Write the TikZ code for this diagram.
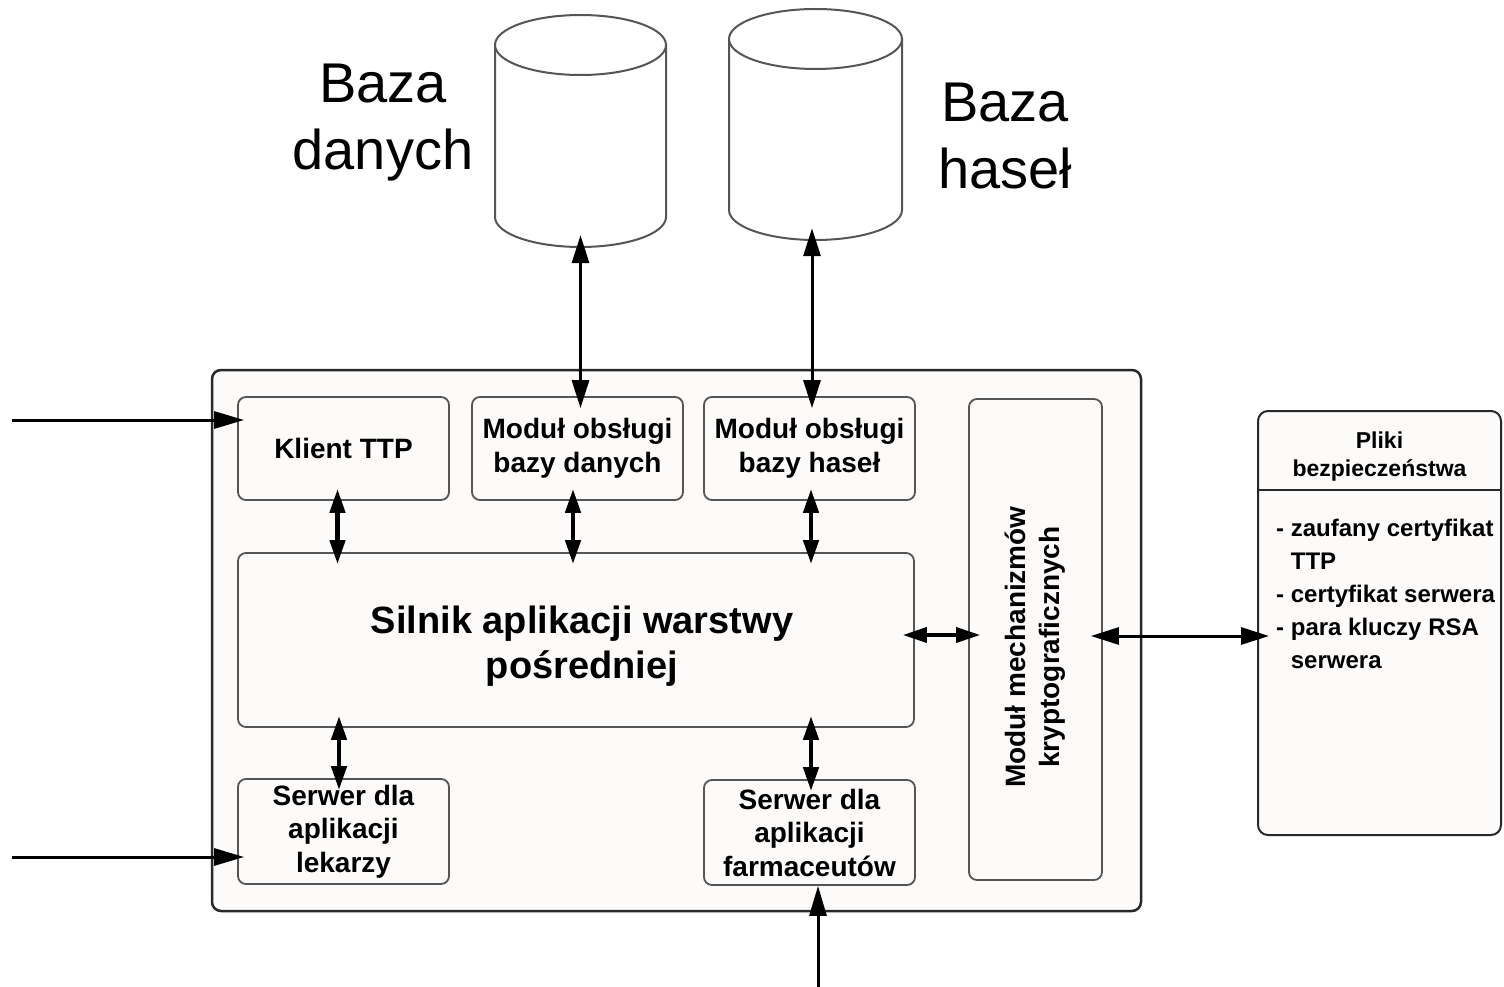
\documentclass[tikz,border=0pt]{standalone}
\usepackage{fontspec}
\setmainfont{Liberation Sans}
\usetikzlibrary{arrows.meta,calc}
\definecolor{boxfill}{RGB}{252,251,250}
\definecolor{edge}{RGB}{85,85,85}
\definecolor{frame}{RGB}{40,40,40}

\begin{document}
\begin{tikzpicture}[x=1pt,y=-1pt,
  module/.style={draw=edge, line width=1.8pt, rounded corners=8pt, fill=boxfill,
    inner sep=0pt, align=center, font=\bfseries\fontsize{28}{33.5}\selectfont},
  outerbox/.style={draw=frame, line width=2.5pt, rounded corners=9pt, fill=boxfill, inner sep=0pt},
  cyl/.style={draw=edge, line width=2pt, fill=white},
  biglabel/.style={align=center, font=\fontsize{56}{67}\selectfont},
  arr/.style={line width=3pt, -{Triangle[length=30pt,width=17pt]}},
  dbl/.style={line width=3pt, {Triangle[length=28pt,width=17pt]}-{Triangle[length=28pt,width=17pt]},
    shorten <=-12pt, shorten >=-12pt},
  link/.style={line width=4.5pt, {Triangle[length=24pt,width=15pt]}-{Triangle[length=24pt,width=15pt]},
    shorten <=-12pt, shorten >=-12pt}
]
\useasboundingbox (0,0) rectangle (1504,987);

% database cylinders
\node[inner sep=0, minimum width=171, minimum height=233] (db) at (580.5,130.5) {};
\node[inner sep=0, minimum width=173, minimum height=231] (pw) at (815.5,124.5) {};
\path[cyl] (495,45) -- (495,217) arc[start angle=180, end angle=0, x radius=85.5, y radius=30] -- (666,45) -- cycle;
\draw[cyl] (580.5,45) ellipse [x radius=85.5, y radius=30];
\path[cyl] (729,39) -- (729,210) arc[start angle=180, end angle=0, x radius=86.5, y radius=30] -- (902,39) -- cycle;
\draw[cyl] (815.5,39) ellipse [x radius=86.5, y radius=30];

\node[biglabel] (dbLabel) at (383,123) {Baza\\danych};
\node[biglabel] (pwLabel) at (1005,136) {Baza\\haseł};

% middleware container
\node[outerbox, minimum width=929, minimum height=541] (mw) at (676.5,640.5) {};

\node[module, minimum width=211, minimum height=103] (klient) at (343.5,448.5) {Klient TTP};
\node[module, minimum width=211, minimum height=103] (moddb) at (577.5,448.5) {Moduł obsługi\\bazy danych};
\node[module, minimum width=211, minimum height=103] (modpw) at (809.5,448.5) {Moduł obsługi\\bazy haseł};
\node[module, minimum width=676, minimum height=174] (silnik) at (576,640) {};
\node[align=center, inner sep=0, font=\bfseries\fontsize{38}{45}\selectfont]
  (silnikText) at (582,646) {Silnik aplikacji warstwy\\pośredniej};
\node[module, minimum width=211, minimum height=105] (lekarze) at (343.5,831.5) {Serwer dla\\aplikacji\\lekarzy};
\node[module, minimum width=211, minimum height=105] (farm) at (809.5,832.5) {Serwer dla\\aplikacji\\farmaceutów};
\node[module, minimum width=133, minimum height=481] (krypto) at (1035.5,639.5) {};
\node[rotate=90, align=center, inner sep=0, font=\bfseries\fontsize{28}{34}\selectfont]
  (kryptoText) at (1035.5,647) {Moduł mechanizmów\\kryptograficznych};

% security files
\node[draw=frame, line width=2pt, rounded corners=10pt, fill=boxfill, inner sep=0,
  minimum width=243, minimum height=424] (pliki) at (1379.5,623) {};
\coordinate (hdr) at (0,490);
\draw[draw=frame, line width=2.5pt] (pliki.west |- hdr) -- (pliki.east |- hdr);
\node[align=center, inner sep=0, font=\bfseries\fontsize{23}{28}\selectfont]
  (plikiHead) at (1379.5,457) {Pliki\\bezpieczeństwa};
\node[align=left, anchor=north west, inner sep=0, font=\bfseries\fontsize{24}{33}\selectfont]
  (plikiList) at (1276,519) {- zaufany certyfikat\\\phantom{- }TTP\\- certyfikat serwera\\- para kluczy RSA\\\phantom{- }serwera};

% connections to the databases
\draw[dbl] (db.south) -- (db.south |- moddb.north);
\draw[dbl] ([xshift=2.5]modpw.north |- pw.south) -- ([xshift=2.5]modpw.north);

% connections inside the container
\draw[link] ([xshift=-6]klient.south) -- ([xshift=-6]klient.south |- silnik.north);
\draw[link] ([xshift=-4.5]moddb.south) -- ([xshift=-4.5]moddb.south |- silnik.north);
\draw[link] ([xshift=1.5]modpw.south) -- ([xshift=1.5]modpw.south |- silnik.north);
\draw[link] ([xshift=-4.5]lekarze.north |- silnik.south) -- ([xshift=-4.5]lekarze.north);
\draw[link] ([xshift=1.5]farm.north |- silnik.south) -- ([xshift=1.5]farm.north);
\coordinate (rowA) at (0,635);
\coordinate (rowB) at (0,636);
\draw[link, line width=3.5pt] (silnik.east |- rowA) -- (krypto.west |- rowA);
\draw[dbl] (krypto.east |- rowB) -- (pliki.west |- rowB);

% incoming connections
\coordinate (inK) at (12,420);
\coordinate (inL) at (12,857);
\coordinate (inF) at (818,987);
\draw[arr, shorten >=-7pt] (inK) -- (inK -| klient.west);
\draw[arr, shorten >=-7pt] (inL) -- (inL -| lekarze.west);
\draw[arr] (inF) -- (inF |- farm.south);
\end{tikzpicture}
\end{document}
